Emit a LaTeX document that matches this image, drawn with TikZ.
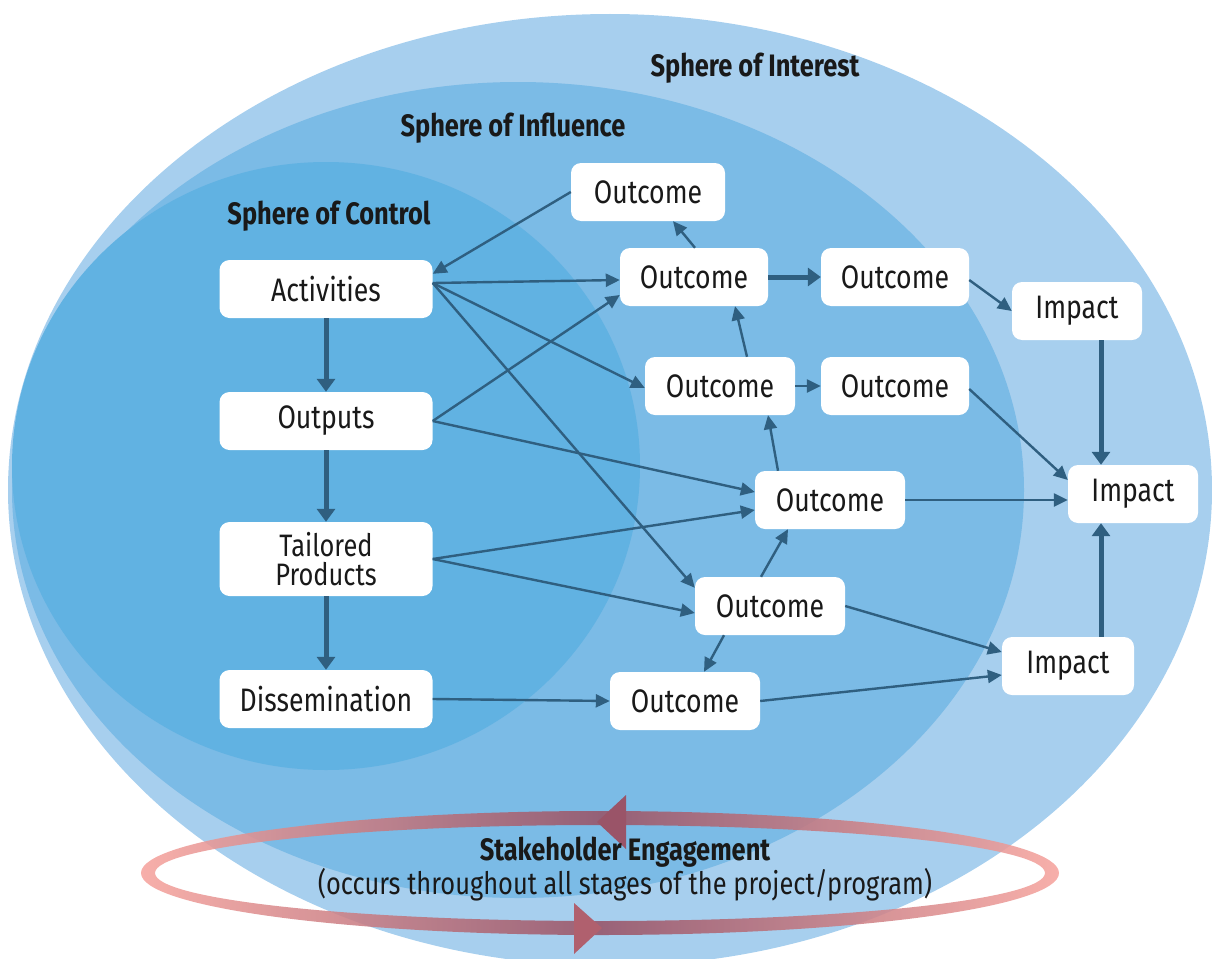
\documentclass[tikz,border=0pt]{standalone}
\usepackage{fontspec}
\setmainfont{Fira Sans}[FakeStretch=0.82]
\usetikzlibrary{arrows.meta}
\definecolor{interest}{HTML}{A7CFEE}
\definecolor{influence}{HTML}{7BBBE6}
\definecolor{control}{HTML}{61B2E2}
\definecolor{arr}{HTML}{2F5F80}
\definecolor{ringend}{HTML}{F6A49E}
\definecolor{ringmid}{HTML}{985468}
\definecolor{ringtip}{HTML}{9A5468}
\definecolor{ringtipb}{HTML}{B0606E}
\begin{document}
\begin{tikzpicture}[x=1pt,y=-1pt,
  box/.style={fill=white, rounded corners=10pt, minimum height=58pt, inner sep=0pt, text=black!90,
    font=\fontsize{32.5}{32}\selectfont},
  sphere/.style={font=\bfseries\fontsize{31}{32}\selectfont, text=black!90},
  thinarrow/.style={draw=arr, line width=2.4pt, -{Triangle[length=14pt,width=13pt]}},
  thickarrow/.style={draw=arr, line width=5pt, -{Triangle[length=13pt,width=18pt]}},
]
\useasboundingbox (0,0) rectangle (1212,958);
\begin{scope}
\clip (0,0) rectangle (1212,958);
\fill[interest] (610,490) ellipse [x radius=602, y radius=476];
\fill[influence] (518,490) ellipse [x radius=506, y radius=408];
\fill[control] (326,466) ellipse [x radius=314, y radius=304];
\end{scope}

% sphere labels
\node[sphere] (lint) at (755,68) {Sphere of Interest};
\node[sphere] (linf) at (513,128) {Sphere of Influence};
\node[sphere] (lcon) at (329,216) {Sphere of Control};

% boxes
\node[box, minimum width=213pt] (act) at (326,289) {Activities};
\node[box, minimum width=213pt] (out) at (326,421) {Outputs};
\node[box, minimum width=213pt, minimum height=74pt, align=center, font=\fontsize{31}{29}\selectfont] (tail) at (326,559) {Tailored\\Products};
\node[box, minimum width=213pt] (dis) at (326,699) {Dissemination};
\node[box, minimum width=154pt] (o1) at (648,192) {Outcome};
\node[box, minimum width=148pt] (o2) at (694,277) {Outcome};
\node[box, minimum width=148pt] (o3) at (895,277) {Outcome};
\node[box, minimum width=130pt] (i1) at (1077,311) {Impact};
\node[box, minimum width=150pt] (o4) at (720,386) {Outcome};
\node[box, minimum width=148pt] (o5) at (895,386) {Outcome};
\node[box, minimum width=130pt] (i2) at (1133,494) {Impact};
\node[box, minimum width=150pt] (o6) at (830,500) {Outcome};
\node[box, minimum width=150pt] (o7) at (770,606) {Outcome};
\node[box, minimum width=132pt] (i3) at (1068,666) {Impact};
\node[box, minimum width=150pt] (o8) at (685,701) {Outcome};

% thin connectors
\draw[thinarrow] (o1.west) -- ([yshift=-14pt]act.north east);
\draw[thinarrow] ([yshift=6pt]act.east) -- ([yshift=-3pt]o2.west);
\draw[thinarrow] ([yshift=6pt]act.east) -- ([yshift=-2pt]o4.west);
\draw[thinarrow] ([yshift=6pt]act.east) -- ([yshift=-11pt]o7.north west);
\draw[thinarrow] (out.east) -- ([yshift=-18pt]o2.west);
\draw[thinarrow] (out.east) -- ([yshift=8pt]o6.west);
\draw[thinarrow] (tail.east) -- ([yshift=-10pt]o6.west);
\draw[thinarrow] (tail.east) -- ([yshift=-7pt]o7.west);
\draw[thinarrow] (dis.east) -- (o8.west);
\draw[thinarrow] ([xshift=1pt]o2.north) -- ([xshift=25pt]o1.south);
\draw[thinarrow] ([yshift=-3pt]o3.east) -- (i1.west);
\draw[thinarrow] ([xshift=27pt]o4.north) -- ([xshift=41pt]o2.south);
\draw[thinarrow] (o4.east) -- (o5.west);
\draw[thinarrow] ([yshift=-3pt]o5.east) -- ([yshift=14pt]i2.west);
\draw[thinarrow] ([xshift=-52pt]o6.north) -- ([xshift=48pt]o4.south);
\draw[thinarrow] (o6.east) -- ([yshift=-6pt]i2.west);
\draw[thinarrow] ([xshift=-9pt]o7.north) -- ([xshift=-42pt]o6.south);
\draw[thinarrow] ([xshift=-46pt]o7.south) -- ([xshift=19pt]o8.north);
\draw[thinarrow] (o7.east) -- ([yshift=14pt]i3.west);
\draw[thinarrow] (o8.east) -- ([yshift=-9pt]i3.west);

% thick connectors
\draw[thickarrow] (act.south) -- (out.north);
\draw[thickarrow] (out.south) -- (tail.north);
\draw[thickarrow] (tail.south) -- (dis.north);
\draw[thickarrow] (o2.east) -- (o3.west);
\draw[thickarrow] ([xshift=24pt]i1.south) -- ([xshift=-32pt]i2.north);
\draw[thickarrow] ([xshift=33pt]i3.north) -- ([xshift=-32pt]i2.south);

% stakeholder ring
\shade[even odd rule, left color=ringend, right color=ringend, middle color=ringmid, opacity=0.88]
  (600,873) ellipse [x radius=459, y radius=62]
  (600,873) ellipse [x radius=445, y radius=48];
\fill[ringtip] (597,822) -- (626,795) -- (626,849) -- cycle;
\fill[ringtipb] (602,928) -- (574,903) -- (574,954) -- cycle;

\node[align=center, inner sep=0pt, text=black!90, font=\fontsize{31}{28}\selectfont] (se) at (625,869)
  {{\bfseries Stakeholder Engagement}\\(occurs throughout all stages of the project/program)};
\end{tikzpicture}
\end{document}
